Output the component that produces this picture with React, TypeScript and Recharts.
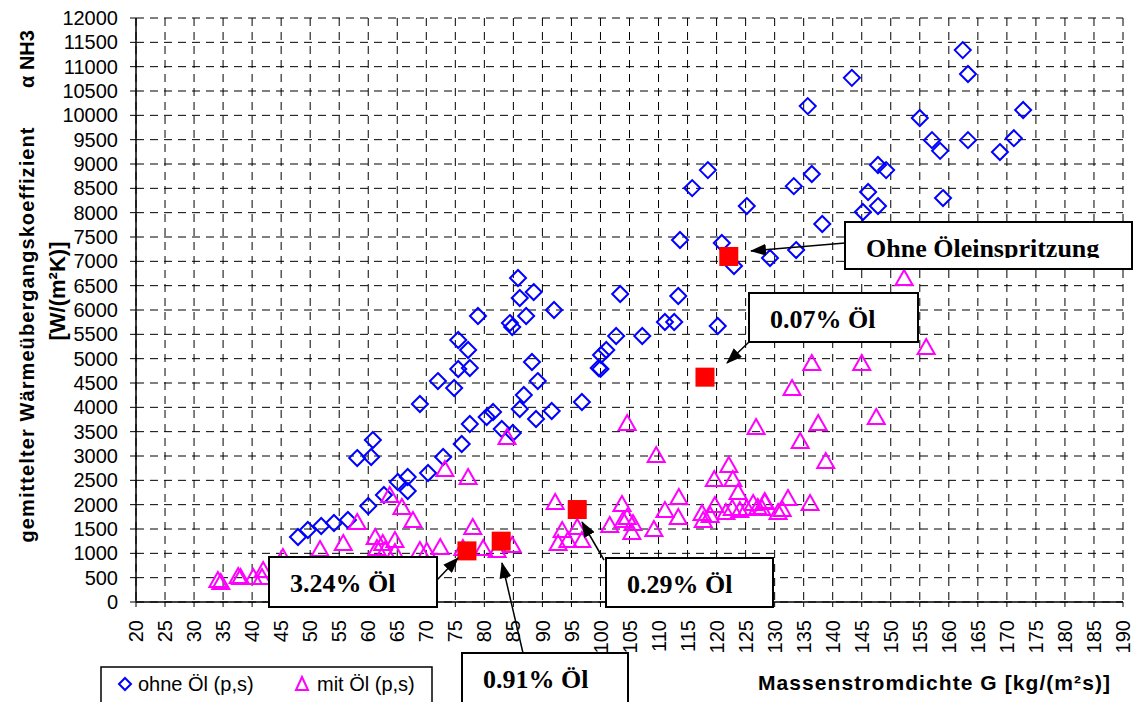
import React from 'react';
import { ScatterChart, Scatter, XAxis, YAxis, CartesianGrid } from 'recharts';

// Massenstromdichte G [kg/(m²s)] / alpha NH3 [W/(m²K)]
const ohneOel: [number, number][] = [
  [162.4, 11340], [163.3, 10850], [143.3, 10770], [135.7, 10190], [172.8, 10110],
  [155, 9945], [157.1, 9490], [158.5, 9270], [163.3, 9490], [171.2, 9530],
  [168.8, 9245], [118.5, 8875], [136.4, 8795], [133.3, 8545], [147.8, 8980],
  [149.2, 8875], [146.1, 8425], [159, 8300], [115.8, 8505], [125.2, 8136],
  [147.8, 8136], [145.2, 8013], [138.2, 7767], [113.7, 7438], [120.9, 7376],
  [123, 6904], [129.2, 7068], [133.7, 7232], [113.4, 6287], [111.1, 5753],
  [112.7, 5753], [120.2, 5671], [85.8, 6657], [86.1, 6246], [88.5, 6369],
  [103.4, 6328], [78.9, 5876], [84.4, 5732], [84.8, 5650], [87.2, 5876],
  [92, 6000], [75.5, 5383], [77.2, 5178], [102.7, 5465], [107.2, 5465],
  [101, 5178], [100.1, 5075], [99.7, 4808], [100, 4790], [88.2, 4931],
  [75.5, 4787], [77.5, 4808], [72, 4540], [74.8, 4397], [89.2, 4540],
  [96.8, 4109], [86.8, 4253], [86.1, 3965], [91.6, 3924], [88.9, 3760],
  [81.5, 3904], [80.4, 3801], [77.5, 3657], [83, 3555], [84.9, 3472],
  [76.1, 3246], [72.9, 2979], [68.9, 4068], [60.8, 3328], [58.1, 2958],
  [60.5, 2979], [70.3, 2650], [66.8, 2568], [65.1, 2466], [66.8, 2280],
  [62.7, 2199], [60, 1972], [56.5, 1685], [54.1, 1623], [51.9, 1562],
  [49.6, 1479], [47.9, 1336],
];

const mitOel: [number, number][] = [
  [34.1, 452], [34.6, 411], [37.6, 534], [38, 514], [40.2, 514], [41.7, 514],
  [41.9, 657], [45.3, 925], [51.7, 1089], [55.7, 1212], [58.1, 1644],
  [61.2, 1336], [62.5, 1212], [61.5, 1110], [62.9, 1068], [64.6, 1274], [64.6, 1027],
  [63.7, 2199], [65.8, 1952], [67.7, 1685], [68.9, 1068], [70.1, 1048], [72.4, 1130],
  [73.2, 2733], [77.2, 2568], [83.9, 3390], [78, 1541], [76.3, 1110], [79.8, 1110],
  [82.2, 1068], [84.8, 1171], [92.2, 2055], [93.4, 1479], [92.7, 1212], [94.4, 1274],
  [96.8, 1274], [96, 1541], [104.6, 3678], [109.6, 3020], [126.8, 3596], [122.1, 2815],
  [119.6, 2527], [122.8, 2527], [123.7, 2260], [103.7, 2014], [101.6, 1582],
  [104.6, 1746], [103.9, 1685], [105.6, 1623], [105.4, 1438], [109.2, 1500],
  [111.1, 1890], [113.5, 2157], [113.4, 1746], [117.5, 1829], [117.7, 1685],
  [118.9, 1788], [119.7, 1993], [121.6, 1849], [122.7, 1931], [124, 1890],
  [125.2, 1931], [126.3, 2034], [127.1, 1952], [128.3, 2055], [130.6, 1849],
  [152.3, 6657], [156.1, 5240], [136.4, 4911], [145, 4911], [133, 4397],
  [137.5, 3678], [147.5, 3801], [134.4, 3308], [138.8, 2897], [128.3, 2075],
  [127.8, 1931], [132.3, 2137], [131.3, 1911], [136.1, 2034],
];

const oelPunkte: [number, number][] = [
  [122.1, 7100], [118, 4620], [96, 1900], [77, 1050], [82.9, 1250],
];

const gTicks = Array.from({ length: 35 }, (_, i) => 20 + i * 5);
const alphaTicks = Array.from({ length: 25 }, (_, i) => i * 500);

const toData = (pts: [number, number][]) => pts.map(([x, y]) => ({ x, y }));

const SANS = '"Liberation Sans", Arial, sans-serif';
const SERIF = '"Liberation Serif", "Times New Roman", serif';

const Diamond = (props: any) => {
  const { cx, cy } = props;
  const r = 8;
  return (
    <polygon
      points={`${cx},${cy - r} ${cx + r},${cy} ${cx},${cy + r} ${cx - r},${cy}`}
      fill="none" stroke="#0000FF" strokeWidth={2}
    />
  );
};

const Triangle = (props: any) => {
  const { cx, cy } = props;
  return (
    <polygon
      points={`${cx},${cy - 8} ${cx + 8.5},${cy + 7} ${cx - 8.5},${cy + 7}`}
      fill="none" stroke="#FF00FF" strokeWidth={2}
    />
  );
};

const Square = (props: any) => {
  const { cx, cy } = props;
  return <rect x={cx - 9.5} y={cy - 9.5} width={19} height={19} fill="#FF0000" />;
};

const GTick = (props: any) => {
  const { x, y, payload } = props;
  return (
    <text
      transform={`translate(${x},${y + 11}) rotate(-90)`}
      textAnchor="end" dy="0.355em" fontSize={20} fill="#000" fontFamily={SANS}
    >
      {payload.value}
    </text>
  );
};

const Callout = ({ x, y, w, h, label, clip }: any) => (
  <g>
    <rect x={x} y={y} width={w} height={h} fill="#fff" stroke="#000" strokeWidth={2} />
    <text
      x={x + 21} y={y + 35} fontFamily={SERIF} fontWeight="bold" fontSize={26}
      fill="#000" clipPath={clip ? 'url(#clipOhne)' : undefined}
    >
      {label}
    </text>
  </g>
);

const App = () => {
  return (
    <div style={{ position: 'absolute', left: 0, top: 0, width: 1133, height: 702, background: '#fff' }}>
      <ScatterChart width={1133} height={702} margin={{ top: 18, right: 10, left: 0, bottom: 0 }}>
        <CartesianGrid stroke="#000" strokeDasharray="8 6" strokeWidth={1} />
        <XAxis
          type="number" dataKey="x" domain={[20, 190]} ticks={gTicks} interval={0}
          height={100} tickSize={5} tick={<GTick />}
          axisLine={{ stroke: '#000', strokeWidth: 1.5 }} tickLine={{ stroke: '#000' }}
        />
        <XAxis
          xAxisId="top" orientation="top" type="number" domain={[20, 190]} height={0}
          tick={false} tickLine={false} axisLine={{ stroke: '#808080', strokeWidth: 2 }}
        />
        <YAxis
          type="number" dataKey="y" domain={[0, 12000]} ticks={alphaTicks} interval={0}
          width={136} tickSize={6} tickMargin={12}
          tick={{ fontSize: 20, fill: '#000', fontFamily: SANS }}
          axisLine={{ stroke: '#000', strokeWidth: 1.5 }} tickLine={{ stroke: '#000' }}
        />
        <YAxis
          yAxisId="right" orientation="right" type="number" domain={[0, 12000]} width={0}
          tick={false} tickLine={false} axisLine={{ stroke: '#808080', strokeWidth: 2 }}
        />
        <Scatter data={toData(ohneOel)} shape={<Diamond />} isAnimationActive={false} />
        <Scatter data={toData(mitOel)} shape={<Triangle />} isAnimationActive={false} />
        <Scatter data={toData(oelPunkte)} shape={<Square />} isAnimationActive={false} />
      </ScatterChart>

      <svg
        width={1133} height={702}
        style={{ position: 'absolute', left: 0, top: 0, pointerEvents: 'none' }}
      >
        <defs>
          <marker id="arrow" markerUnits="userSpaceOnUse" markerWidth={16} markerHeight={12}
            refX={15} refY={6} orient="auto">
            <path d="M0,0 L16,6 L0,12 Z" fill="#000" />
          </marker>
          <clipPath id="clipOhne">
            <rect x={845} y={222} width={288} height={36} />
          </clipPath>
        </defs>

        {/* axis titles */}
        <text transform="translate(34,335) rotate(-90)" textAnchor="middle" fontFamily={SANS}
          fontWeight="bold" fontSize={20} fill="#000" textLength={415} lengthAdjust="spacing">
          gemittelter Wärmeübergangskoeffizient
        </text>
        <text transform="translate(34,59) rotate(-90)" textAnchor="middle" fontFamily={SANS}
          fontWeight="bold" fontSize={20} fill="#000">
          α NH3
        </text>
        <text transform="translate(65,291) rotate(-90)" textAnchor="middle" fontFamily={SANS}
          fontWeight="bold" fontSize={22} fill="#000">
          [W/(m²K)]
        </text>
        <text x={758} y={690} fontFamily={SANS} fontWeight="bold" fontSize={21} fill="#000"
          textLength={352} lengthAdjust="spacing">
          Massenstromdichte G [kg/(m²s)]
        </text>

        {/* legend */}
        <rect x={101} y={667} width={331} height={50} fill="#fff" stroke="#000" strokeWidth={1.5} />
        <polygon points="125,678 131,684 125,690 119,684" fill="none" stroke="#0000FF" strokeWidth={2} />
        <text x={138} y={691} fontFamily={SANS} fontSize={20} fill="#000">ohne Öl (p,s)</text>
        <polygon points="302,677 308,690 296,690" fill="none" stroke="#FF00FF" strokeWidth={2} />
        <text x={317} y={691} fontFamily={SANS} fontSize={20} fill="#000">mit Öl (p,s)</text>

        {/* callouts */}
        <line x1={845} y1={243} x2={751} y2={251} stroke="#000" strokeWidth={1.5} markerEnd="url(#arrow)" />
        <line x1={749} y1={342} x2={727} y2={363} stroke="#000" strokeWidth={1.5} markerEnd="url(#arrow)" />
        <line x1={437} y1={580} x2={458} y2={558} stroke="#000" strokeWidth={1.5} markerEnd="url(#arrow)" />
        <line x1={604} y1={560} x2={582} y2={522} stroke="#000" strokeWidth={1.5} markerEnd="url(#arrow)" />
        <line x1={523} y1={653} x2={502} y2={563} stroke="#000" strokeWidth={1.5} markerEnd="url(#arrow)" />

        <Callout x={845} y={222} w={287} h={47} label="Ohne Öleinspritzung" clip />
        <Callout x={749} y={293} w={169} h={49} label="0.07% Öl" />
        <Callout x={269} y={557} w={168} h={50} label="3.24% Öl" />
        <Callout x={606} y={558} w={167} h={49} label="0.29% Öl" />
        <Callout x={462} y={653} w={166} h={60} label="0.91% Öl" />
      </svg>
    </div>
  );
};

export default App;
